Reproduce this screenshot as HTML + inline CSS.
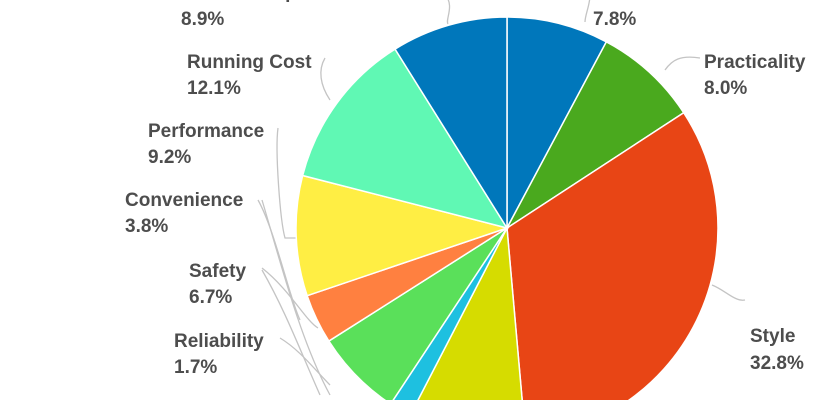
<!DOCTYPE html>
<html><head><meta charset="utf-8"><style>
html,body{margin:0;padding:0;background:#fff;width:840px;height:400px;overflow:hidden}
svg{display:block;overflow:hidden}
text{font-family:"Liberation Sans",Arial,sans-serif;font-weight:bold;font-size:19px;fill:#4d4d4d}
</style></head><body>
<svg id="s" width="840" height="400" xmlns="http://www.w3.org/2000/svg">
<g id="lines" fill="none" stroke="#c4c4c4" stroke-width="1.3"></g>
<g id="pie" stroke="#fff" stroke-width="1.5"></g>
<text x="181" y="-2">Technical Specification</text><text x="181" y="25">8.9%</text>
<text x="593" y="-2">Purchase Price</text><text x="593" y="25">7.8%</text>
<text x="704" y="68">Practicality</text><text x="704" y="94">8.0%</text>
<text x="750" y="342">Style</text><text x="750" y="369">32.8%</text>
<text x="187" y="68">Running Cost</text><text x="187" y="94">12.1%</text>
<text x="148" y="137">Performance</text><text x="148" y="163">9.2%</text>
<text x="125" y="206">Convenience</text><text x="125" y="232">3.8%</text>
<text x="189" y="277">Safety</text><text x="189" y="303">6.7%</text>
<text x="174" y="347">Reliability</text><text x="174" y="373">1.7%</text>
</svg>
<script>
var cx=507,cy=228,r=211;
var d=[[7.8,"#0077bb"],[8.0,"#4aa91e"],[32.8,"#e84515"],[9.0,"#d6dc00"],[1.7,"#1ec0e0"],[6.7,"#5ae05a"],[3.8,"#ff8040"],[9.2,"#ffee44"],[12.1,"#60f8b4"],[8.9,"#0077bb"]];
var a=0,g=document.getElementById("pie"),h="";
function pt(t,rr){return [cx+rr*Math.sin(t),cy-rr*Math.cos(t)];}
d.forEach(function(s){var a0=a/100*2*Math.PI;a+=s[0];var a1=a/100*2*Math.PI;
var p0=pt(a0,r),p1=pt(a1,r);
h+='<path fill="'+s[1]+'" d="M'+cx+','+cy+'L'+p0[0]+','+p0[1]+'A'+r+','+r+' 0 '+((a1-a0)>Math.PI?1:0)+' 1 '+p1[0]+','+p1[1]+'Z"/>';});
g.innerHTML=h;
var L=[
"M445,-5 C455,5 445,20 448,24",
"M590,-5 C590,5 585,15 585,22",
"M700,58 C680,55 672,60 665,70",
"M745,300 C735,302 725,290 712,285",
"M325,58 C318,70 320,85 330,100",
"M278,128 C275,150 280,220 285,238 L300,238",
"M258,200 C275,230 290,300 300,320",
"M262,268 C290,290 305,320 318,328",
"M280,338 C300,350 315,370 330,385",
"M262,200 C280,260 300,340 330,395",
"M262,270 C285,310 300,350 320,395"
];
document.getElementById("lines").innerHTML=L.map(function(p){return '<path d="'+p+'"/>';}).join("");
</script>
</body></html>
